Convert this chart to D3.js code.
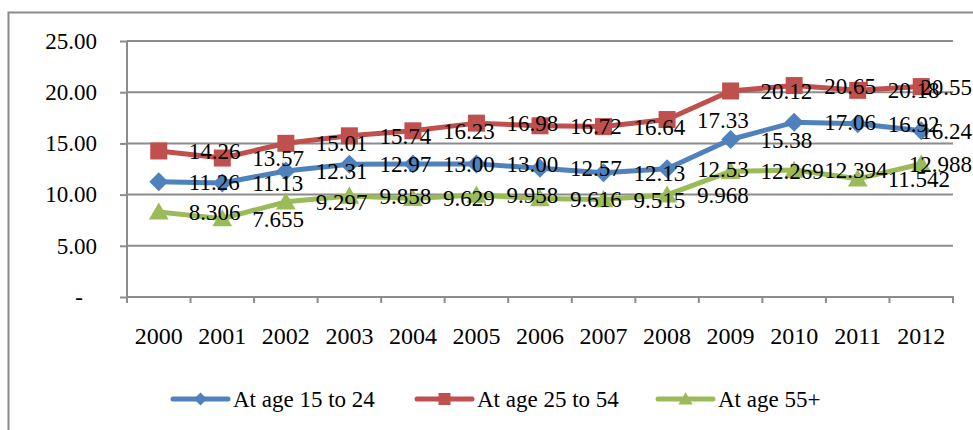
<!DOCTYPE html>
<html>
<head>
<meta charset="utf-8">
<script src="https://cdn.jsdelivr.net/npm/d3@7/dist/d3.min.js"></script>
<style>
  html, body { margin: 0; padding: 0; background: #fff; }
  svg { display: block; }
  text { font-family: "Liberation Serif", "Times New Roman", serif; fill: #000; }
</style>
</head>
<body>
<svg id="chart" width="973" height="430"></svg>
<script>
// Unemployment rate by age group, 2000-2012
const years = ["2000","2001","2002","2003","2004","2005","2006","2007","2008","2009","2010","2011","2012"];
const age15to24 = [11.26, 11.13, 12.31, 12.97, 13.00, 13.00, 12.57, 12.13, 12.53, 15.38, 17.06, 16.92, 16.24];
const age25to54 = [14.26, 13.57, 15.01, 15.74, 16.23, 16.98, 16.72, 16.64, 17.33, 20.12, 20.65, 20.18, 20.55];
const age55plus = [8.306, 7.655, 9.297, 9.858, 9.629, 9.958, 9.616, 9.515, 9.968, 12.269, 12.394, 11.542, 12.988];
const seriesNames = ["At age 15 to 24", "At age 25 to 54", "At age 55+"];
const yTicks = [0, 5, 10, 15, 20, 25];

const series = [
  { name: seriesNames[0], values: age15to24, color: "#4F81BD", marker: "diamond", labels: age15to24.map(v => v.toFixed(2)) },
  { name: seriesNames[1], values: age25to54, color: "#C0504D", marker: "square",  labels: age25to54.map(v => v.toFixed(2)) },
  { name: seriesNames[2], values: age55plus, color: "#9BBB59", marker: "triangle", labels: age55plus.map(v => v.toFixed(3)) }
];

const svg = d3.select("#chart");
const W = 973;
const plot = { left: 127, right: 953, top: 41, bottom: 297 };
const gridColor = "#8c8c8c";

// outer chart frame
svg.append("rect")
  .attr("x", 8.5).attr("y", 12.5)
  .attr("width", 1000).attr("height", 500)
  .attr("fill", "none").attr("stroke", "#8a8a8a").attr("stroke-width", 2);

const x = d3.scaleBand().domain(years).range([plot.left, plot.right]);
const y = d3.scaleLinear().domain([0, 25]).range([plot.bottom, plot.top]);
const cx = d => x(d) + x.bandwidth() / 2;

// horizontal gridlines
svg.append("g").selectAll("line")
  .data(yTicks.filter(t => t > 0))
  .join("line")
  .attr("x1", plot.left).attr("x2", plot.right)
  .attr("y1", d => y(d)).attr("y2", d => y(d))
  .attr("stroke", gridColor).attr("stroke-width", 2);

// value axis
const yAxis = svg.append("g")
  .attr("transform", `translate(${plot.left},0)`)
  .call(d3.axisLeft(y).tickValues(yTicks).tickSize(7).tickPadding(23)
    .tickFormat(d => d === 0 ? "-" : d.toFixed(2)));
yAxis.select(".domain").attr("stroke", gridColor).attr("stroke-width", 2)
  .attr("d", `M0,${plot.top}V${plot.bottom + 6}`);
yAxis.selectAll(".tick line").attr("stroke", gridColor).attr("stroke-width", 2);
yAxis.selectAll(".tick text")
  .style("font-family", "'Liberation Serif', serif")
  .style("font-size", "23px")
  .attr("fill", "#000")
  .attr("dx", d => d === 0 ? -14 : 0);

// category axis
const xAxis = svg.append("g")
  .attr("transform", `translate(0,${plot.bottom})`)
  .call(d3.axisBottom(x).tickSize(0).tickPadding(0));
xAxis.select(".domain").attr("stroke", gridColor).attr("stroke-width", 2)
  .attr("d", `M${plot.left},0H${plot.right}V6`);
xAxis.selectAll(".tick text")
  .style("font-family", "'Liberation Serif', serif")
  .style("font-size", "24px")
  .attr("fill", "#000")
  .attr("y", 47).attr("dy", 0);
xAxis.append("g").selectAll("line")
  .data(years)
  .join("line")
  .attr("x1", d => x(d)).attr("x2", d => x(d))
  .attr("y1", 0).attr("y2", 6)
  .attr("stroke", gridColor).attr("stroke-width", 2);

// marker shapes
function markerPath(type, s) {
  if (type === "diamond") return `M0,${-s}L${s},0L0,${s}L${-s},0Z`;
  if (type === "square") return `M${-s},${-s}H${s}V${s}H${-s}Z`;
  return `M0,${-s * 1.05}L${s * 1.1},${s * 0.85}H${-s * 1.1}Z`;
}
const markerSize = { diamond: 9.5, square: 8.5, triangle: 9 };

const line = d3.line().x((d, i) => cx(years[i])).y(d => y(d));

series.forEach(s => {
  const g = svg.append("g");
  g.append("path")
    .datum(s.values)
    .attr("d", line)
    .attr("fill", "none")
    .attr("stroke", s.color)
    .attr("stroke-width", 5)
    .attr("stroke-linejoin", "round");
  g.selectAll("path.mk")
    .data(s.values)
    .join("path")
    .attr("class", "mk")
    .attr("transform", (d, i) => `translate(${cx(years[i])},${y(d)})`)
    .attr("d", markerPath(s.marker, markerSize[s.marker]))
    .attr("fill", s.color);
});

// data labels to the right of each point, kept inside the chart area
series.forEach(s => {
  svg.append("g").selectAll("text")
    .data(s.values)
    .join("text")
    .attr("x", (d, i) => cx(years[i]) + 30)
    .attr("y", d => y(d))
    .attr("dy", "0.35em")
    .style("font-size", "23px")
    .text((d, i) => s.labels[i])
    .each(function () {
      const w = this.getComputedTextLength();
      const x0 = +this.getAttribute("x");
      if (x0 + w > W - 1) this.setAttribute("x", W - 1 - w);
    });
});

// legend
const legendItems = [
  { x: 173, s: series[0] },
  { x: 417, s: series[1] },
  { x: 658, s: series[2] }
];
const ly = 399;
legendItems.forEach(item => {
  const g = svg.append("g").attr("transform", `translate(${item.x},${ly})`);
  g.append("line").attr("x1", 0).attr("x2", 55).attr("y1", 0).attr("y2", 0)
    .attr("stroke", item.s.color).attr("stroke-width", 5).attr("stroke-linecap", "round");
  g.append("path").attr("transform", "translate(27.5,0)")
    .attr("d", markerPath(item.s.marker, item.s.marker === "square" ? 6 : 6.5))
    .attr("fill", item.s.color);
  g.append("text").attr("x", 60).attr("y", 8)
    .style("font-size", "23px")
    .text(item.s.name);
});
</script>
</body>
</html>
